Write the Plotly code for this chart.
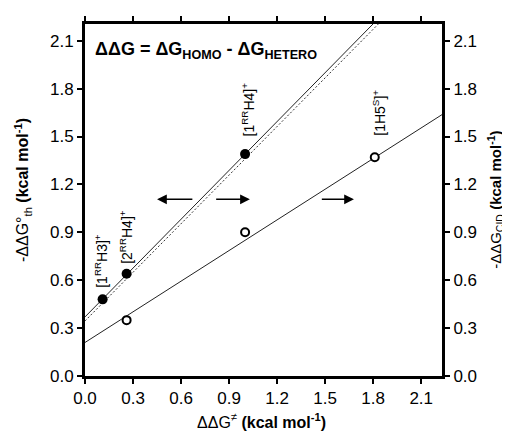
import numpy as np
import plotly.graph_objects as go

# Data
filled_x = [0.11, 0.26, 1.00]
filled_y = [0.48, 0.64, 1.39]
open_x = [0.26, 1.00, 1.81]
open_y = [0.35, 0.90, 1.37]

# Fit lines (intercept, slope)
fit_filled = (0.37, 1.02)
fit_dashed = (0.345, 1.015)
fit_open = (0.21, 0.64)

tick_vals = [0.0, 0.3, 0.6, 0.9, 1.2, 1.5, 1.8, 2.1]
tick_text = ["0.0", "0.3", "0.6", "0.9", "1.2", "1.5", "1.8", "2.1"]

labels = ["[1<sup>RR</sup>H3]<sup>+</sup>", "[2<sup>RR</sup>H4]<sup>+</sup>",
          "[1<sup>RR</sup>H4]<sup>+</sup>", "[1H5<sup>S</sup>]<sup>+</sup>"]
label_x = [0.10, 0.256, 1.02, 1.84]
label_y = [0.54, 0.69, 1.49, 1.49]

XMAX, YMAX = 2.23, 2.205
FONT = "Liberation Sans, Arial, sans-serif"

xs = np.array([0.0, XMAX])
fig = go.Figure()

def add_line(params, dash, color):
    b, m = params
    fig.add_trace(go.Scatter(x=xs, y=b + m * xs, mode="lines",
                             line=dict(color=color, width=1, dash=dash),
                             showlegend=False, hoverinfo="skip"))

add_line(fit_filled, "solid", "#222")
add_line(fit_dashed, "2px,2px", "#333")
add_line(fit_open, "solid", "#222")

fig.add_trace(go.Scatter(x=filled_x, y=filled_y, mode="markers",
                         marker=dict(color="black", size=10, symbol="circle"),
                         showlegend=False))
fig.add_trace(go.Scatter(x=open_x, y=open_y, mode="markers",
                         marker=dict(color="white", size=8, symbol="circle",
                                     line=dict(color="black", width=2)),
                         showlegend=False))
# dummy trace on y2
fig.add_trace(go.Scatter(x=[None], y=[None], yaxis="y2", showlegend=False))

for t, x, y in zip(labels, label_x, label_y):
    fig.add_annotation(x=x, y=y, text=t, textangle=-90, showarrow=False,
                       xanchor="center", yanchor="bottom",
                       font=dict(size=14, color="black", family=FONT))

# Arrows (tail -> head)
arrows = [((0.68, 1.107), (0.45, 1.107)),
          ((0.81, 1.107), (1.03, 1.107)),
          ((1.47, 1.107), (1.68, 1.107))]
for (tx, ty), (hx, hy) in arrows:
    fig.add_annotation(x=hx, y=hy, ax=tx, ay=ty, xref="x", yref="y",
                       axref="x", ayref="y", showarrow=True, text="",
                       arrowhead=2, arrowsize=1.3, arrowwidth=1.5,
                       arrowcolor="black")

fig.add_annotation(x=0.023, y=0.925, xref="paper", yref="paper",
                   text="<b>ΔΔG = ΔG<sub>HOMO</sub> - ΔG<sub>HETERO</sub></b>",
                   showarrow=False, xanchor="left", yanchor="middle",
                   font=dict(size=18, color="black", family=FONT))

# Axis titles
fig.add_annotation(x=0.495, y=-0.128, xref="paper", yref="paper",
                   text="ΔΔG<sup>≠</sup> <b>(kcal mol<sup>-1</sup>)</b>",
                   showarrow=False, xanchor="center", yanchor="middle",
                   font=dict(size=16, color="black", family=FONT))
fig.add_annotation(x=-0.174, y=0.528, xref="paper", yref="paper",
                   text="-ΔΔG°<sub>th</sub> <b>(kcal mol<sup>-1</sup>)</b>",
                   textangle=-90, showarrow=False, xanchor="center", yanchor="middle",
                   font=dict(size=16, color="black", family=FONT))
fig.add_annotation(x=1.148, y=0.5, xref="paper", yref="paper",
                   text="-ΔΔG<sub>CID</sub> <b>(kcal mol<sup>-1</sup>)</b>",
                   textangle=-90, showarrow=False, xanchor="center", yanchor="middle",
                   font=dict(size=15, color="black", family=FONT))

axis_common = dict(showgrid=False, zeroline=False, showline=True, linecolor="black",
                   linewidth=3, ticks="outside", ticklen=5, tickwidth=2,
                   tickcolor="black", tickvals=tick_vals, ticktext=tick_text,
                   tickfont=dict(size=17, color="black", family=FONT))

fig.update_layout(
    width=502, height=424,
    margin=dict(l=77, r=68, t=8, b=56),
    paper_bgcolor="white", plot_bgcolor="white",
    xaxis=dict(range=[0, XMAX], mirror="ticks", **axis_common),
    yaxis=dict(range=[0, YMAX], **axis_common),
    yaxis2=dict(range=[0, YMAX], overlaying="y", side="right", **axis_common),
)

fig.write_html("out.html")
